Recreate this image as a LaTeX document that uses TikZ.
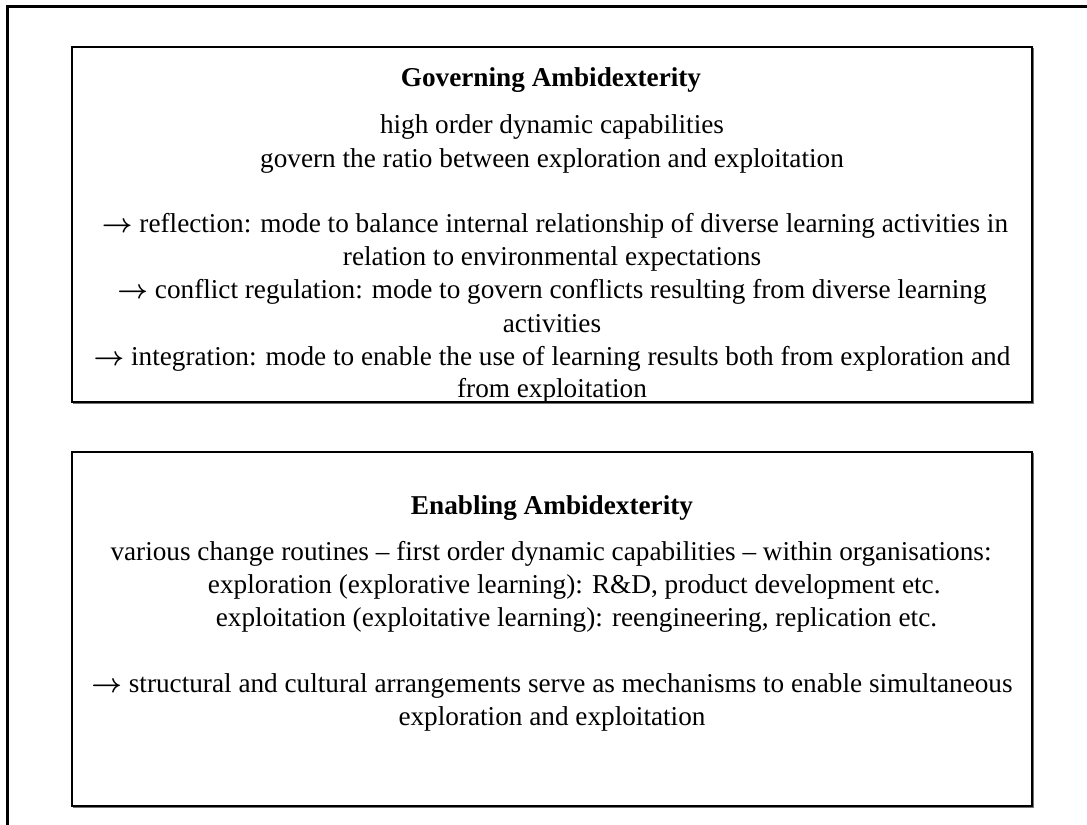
\documentclass[tikz,border=0pt]{standalone}
\usepackage{bm}
\usepackage{fontspec}
\setmainfont{Liberation Serif}
\newcommand{\goarrow}{$\bm{\rightarrow}$}
\begin{document}
\begin{tikzpicture}[x=0.45pt,y=-0.45pt]
    \tikzset{txt/.style = {anchor=base,inner sep=0pt,font=\fontsize{12.25pt}{14pt}\selectfont}}
    \tikzset{head/.style = {txt,font=\fontsize{12.25pt}{14pt}\selectfont\bfseries}}
    \tikzset{frame/.style = {draw,line width=0.5pt}}
    \tikzset{shade/.style = {draw=black!55,line width=0.6pt}}

    \useasboundingbox (0,0) rectangle (1087,825);

    % outer frame (only top and left edge on the page)
    \draw[line width=1.35pt] (7,830) -- (7,7) -- (1095,7);

    % governing box
    \coordinate (gnw) at (72,47);
    \coordinate (gse) at (1032,402);
    \draw[frame] (gnw) rectangle (gse);
    \draw[shade] (1033.5,48) -- (1033.5,403.5) -- (73,403.5);

    \node[head] (gtitle) at (551,87) {Governing Ambidexterity};
    \node[txt] (g1) at (552,134) {high order dynamic capabilities};
    \node[txt] (g2) at (552,167) {govern the ratio between exploration and exploitation};
    \node[txt] (g3) at (555,232) {\goarrow{} reflection: mode to balance internal relationship of diverse learning activities in};
    \node[txt] (g4) at (552,265) {relation to environmental expectations};
    \node[txt] (g5) at (552,298) {\goarrow{} conflict regulation: mode to govern conflicts resulting from diverse learning};
    \node[txt] (g6) at (552,332) {activities};
    \node[txt] (g7) at (552,365) {\goarrow{} integration: mode to enable the use of learning results both from exploration and};
    \node[txt] (g8) at (552,397) {from exploitation};

    % enabling box
    \coordinate (enw) at (72,452);
    \coordinate (ese) at (1032,806);
    \draw[frame] (enw) rectangle (ese);
    \draw[shade] (1033.5,453) -- (1033.5,807.5) -- (73,807.5);

    \node[head] (etitle) at (552,514) {Enabling Ambidexterity};
    \node[txt] (e1) at (551,560) {various change routines – first order dynamic capabilities – within organisations:};
    \node[txt] (e2) at (552,593) {\hspace*{20pt}exploration (explorative learning): R\&D, product development etc.};
    \node[txt] (e3) at (552,626) {\hspace*{22pt}exploitation (exploitative learning): reengineering, replication etc.};
    \node[txt] (e4) at (552,692) {\goarrow{} structural and cultural arrangements serve as mechanisms to enable simultaneous};
    \node[txt] (e5) at (552,725) {exploration and exploitation};
\end{tikzpicture}
\end{document}
